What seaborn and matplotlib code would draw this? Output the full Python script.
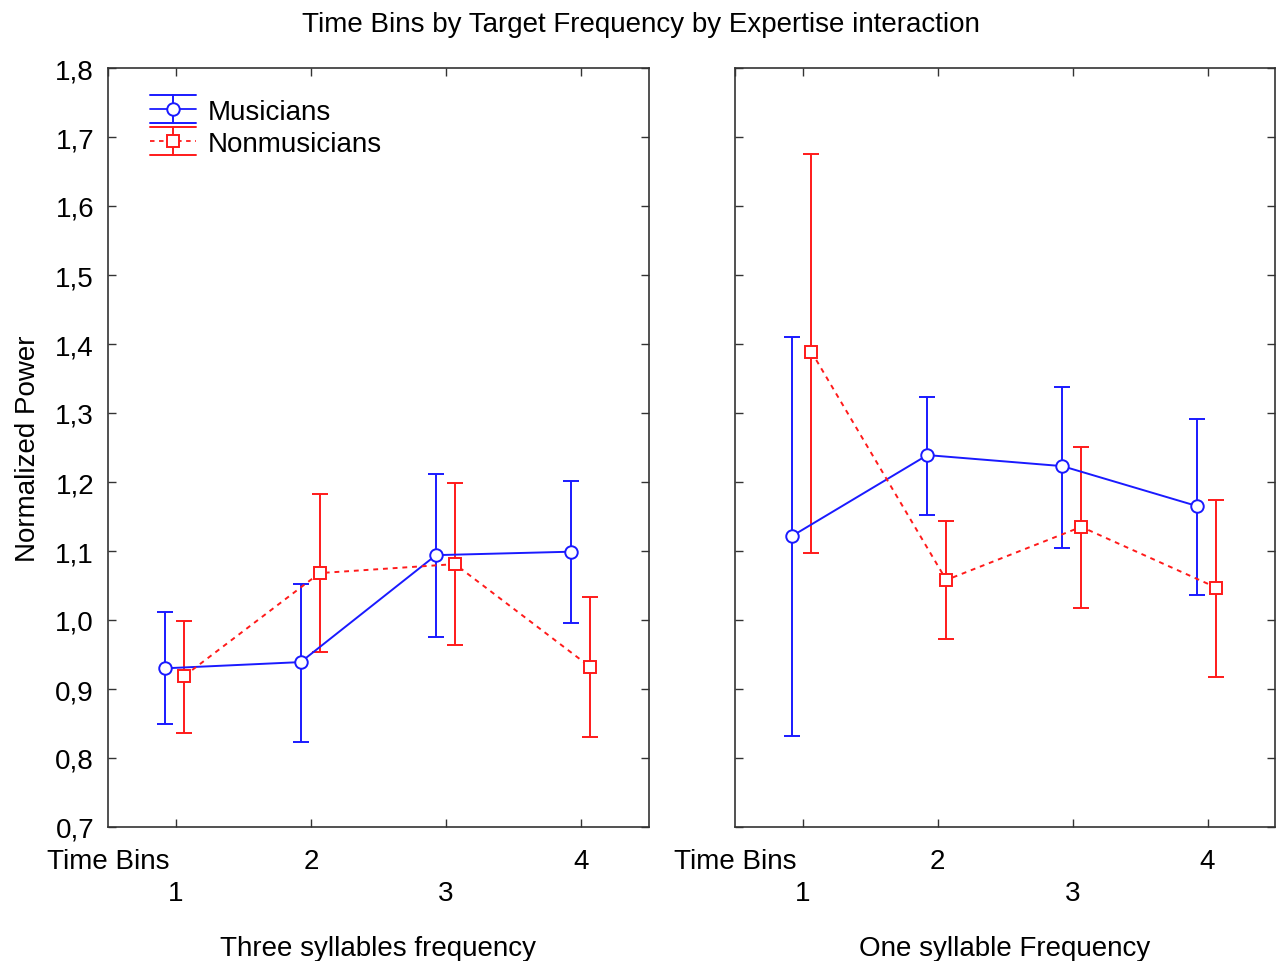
import numpy as np
import pandas as pd
import matplotlib
matplotlib.use("Agg")
import matplotlib.pyplot as plt
import seaborn as sns
from matplotlib.lines import Line2D
from matplotlib.legend_handler import HandlerBase
from matplotlib.ticker import FuncFormatter

# Time bins and group labels
bins = [1, 2, 3, 4]
groups = ["Musicians", "Nonmusicians"]
panels = ["Three syllables frequency", "One syllable Frequency"]

# Three syllables frequency: means and confidence limits
three_mus_mean = [0.930, 0.939, 1.094, 1.099]
three_mus_low = [0.849, 0.823, 0.975, 0.996]
three_mus_high = [1.011, 1.052, 1.212, 1.201]
three_non_mean = [0.919, 1.068, 1.081, 0.932]
three_non_low = [0.836, 0.954, 0.964, 0.830]
three_non_high = [0.998, 1.182, 1.199, 1.034]

# One syllable frequency: means and confidence limits
one_mus_mean = [1.122, 1.239, 1.223, 1.165]
one_mus_low = [0.832, 1.152, 1.105, 1.036]
one_mus_high = [1.410, 1.323, 1.338, 1.292]
one_non_mean = [1.389, 1.058, 1.135, 1.047]
one_non_low = [1.097, 0.972, 1.017, 0.917]
one_non_high = [1.675, 1.143, 1.251, 1.174]

y_ticks = [0.7, 0.8, 0.9, 1.0, 1.1, 1.2, 1.3, 1.4, 1.5, 1.6, 1.7, 1.8]

panel_data = {
    panels[0]: {
        "Musicians": (three_mus_mean, three_mus_low, three_mus_high),
        "Nonmusicians": (three_non_mean, three_non_low, three_non_high),
    },
    panels[1]: {
        "Musicians": (one_mus_mean, one_mus_low, one_mus_high),
        "Nonmusicians": (one_non_mean, one_non_low, one_non_high),
    },
}

colors = {"Musicians": "#1a1aff", "Nonmusicians": "#ff1a1a"}
markers = {"Musicians": "o", "Nonmusicians": "s"}
dashes = {"Musicians": "", "Nonmusicians": (2.5, 2.5)}
dodge = {"Musicians": -0.075, "Nonmusicians": 0.065}

sns.set_theme(style="ticks")
plt.rcParams["font.family"] = ["Liberation Sans", "DejaVu Sans"]
plt.rcParams["text.color"] = "black"
plt.rcParams["axes.labelcolor"] = "black"
plt.rcParams["xtick.color"] = "black"
plt.rcParams["ytick.color"] = "black"
FS = 20

fig = plt.figure(figsize=(12.76, 9.62), dpi=100)
W, H = 1276, 962
ax_left = fig.add_axes([108 / W, (H - 828) / H, 541 / W, 759 / H])
ax_right = fig.add_axes([735 / W, (H - 828) / H, 540 / W, 759 / H])


class ErrorLegendHandler(HandlerBase):
    """Legend key: data line with marker, vertical whisker and wide caps."""

    def __init__(self, color, marker, ls):
        super().__init__()
        self.color, self.marker, self.ls = color, marker, ls

    def create_artists(self, legend, orig_handle, xdescent, ydescent,
                       width, height, fontsize, trans):
        x0, x1 = -xdescent, -xdescent + width
        xm = (x0 + x1) / 2
        yc = -ydescent + height / 2
        dy = 10.0
        arts = [
            Line2D([x0, x1], [yc + dy, yc + dy], color=self.color, lw=1.4),
            Line2D([x0, x1], [yc - dy, yc - dy], color=self.color, lw=1.4),
            Line2D([xm, xm], [yc - dy, yc + dy], color=self.color, lw=1.4),
            Line2D([x0, x1], [yc, yc], color=self.color, lw=1.3, ls=self.ls),
            Line2D([xm], [yc], color=self.color, marker=self.marker,
                   markersize=9, markerfacecolor="white",
                   markeredgecolor=self.color, markeredgewidth=1.4, ls="none"),
        ]
        for a in arts:
            a.set_transform(trans)
        return arts


for ax, panel in zip([ax_left, ax_right], panels):
    rows = []
    for g in groups:
        mean, low, high = panel_data[panel][g]
        for b, m, lo, hi in zip(bins, mean, low, high):
            rows.append({"group": g, "bin": b, "x": b + dodge[g],
                         "mean": m, "low": lo, "high": hi})
    df = pd.DataFrame(rows)

    # whiskers
    for g in groups:
        sub = df[df.group == g]
        ax.errorbar(sub["x"], sub["mean"],
                    yerr=[sub["mean"] - sub["low"], sub["high"] - sub["mean"]],
                    fmt="none", ecolor=colors[g], elinewidth=1.4,
                    capsize=6, capthick=1.4, zorder=2)

    # mean lines with hollow markers
    n_before = len(ax.lines)
    sns.lineplot(data=df, x="x", y="mean", hue="group", style="group",
                 hue_order=groups, style_order=groups,
                 palette=colors, markers=markers, dashes=dashes,
                 markersize=9, markeredgewidth=1.4,
                 linewidth=1.4, legend=False, sort=True, estimator=None,
                 ax=ax, zorder=3)
    for ln in ax.lines[n_before:]:
        c = ln.get_color()
        ln.set_markerfacecolor("white")
        ln.set_markeredgecolor(c)
        ln.set_zorder(3)

    ax.set_xlim(0.5, 4.5)
    ax.set_ylim(0.7, 1.8)
    ax.set_yticks(y_ticks)
    ax.set_xticks([0.5] + bins)
    ax.set_xticklabels(["Time Bins", "\n1", "2", "\n3", "4"], fontsize=FS,
                       linespacing=1.3)
    ax.xaxis.get_major_ticks()[0].tick1line.set_visible(False)
    ax.xaxis.get_major_ticks()[0].tick2line.set_visible(False)
    ax.tick_params(axis="both", direction="in", length=6, width=1.0,
                   color="#333333", top=True, right=True, labelsize=FS,
                   pad=10)
    ax.tick_params(axis="x", pad=15)
    ax.set_xlabel(panel, fontsize=FS, labelpad=21)
    ax.set_ylabel("")
    for s in ax.spines.values():
        s.set_linewidth(1.2)
        s.set_color("#333333")

ax_left.yaxis.set_major_formatter(
    FuncFormatter(lambda v, p: f"{v:.1f}".replace(".", ",")))
ax_right.tick_params(axis="y", labelleft=False)
ax_left.set_ylabel("Normalized Power", fontsize=FS, labelpad=10)

handles = [Line2D([], []), Line2D([], [])]
ax_left.legend(handles, groups, loc="upper left",
               bbox_to_anchor=(0.031, 0.992), frameon=False, fontsize=FS,
               handlelength=1.65, handletextpad=0.45, labelspacing=0.2,
               handler_map={
                   handles[0]: ErrorLegendHandler(colors["Musicians"], "o", "-"),
                   handles[1]: ErrorLegendHandler(colors["Nonmusicians"], "s", (0, (2.5, 2.5))),
               })

fig.suptitle("Time Bins by Target Frequency by Expertise interaction",
             x=641 / W, y=1 - 25 / H, va="center", fontsize=20)

fig.savefig("out.png", dpi=100)
